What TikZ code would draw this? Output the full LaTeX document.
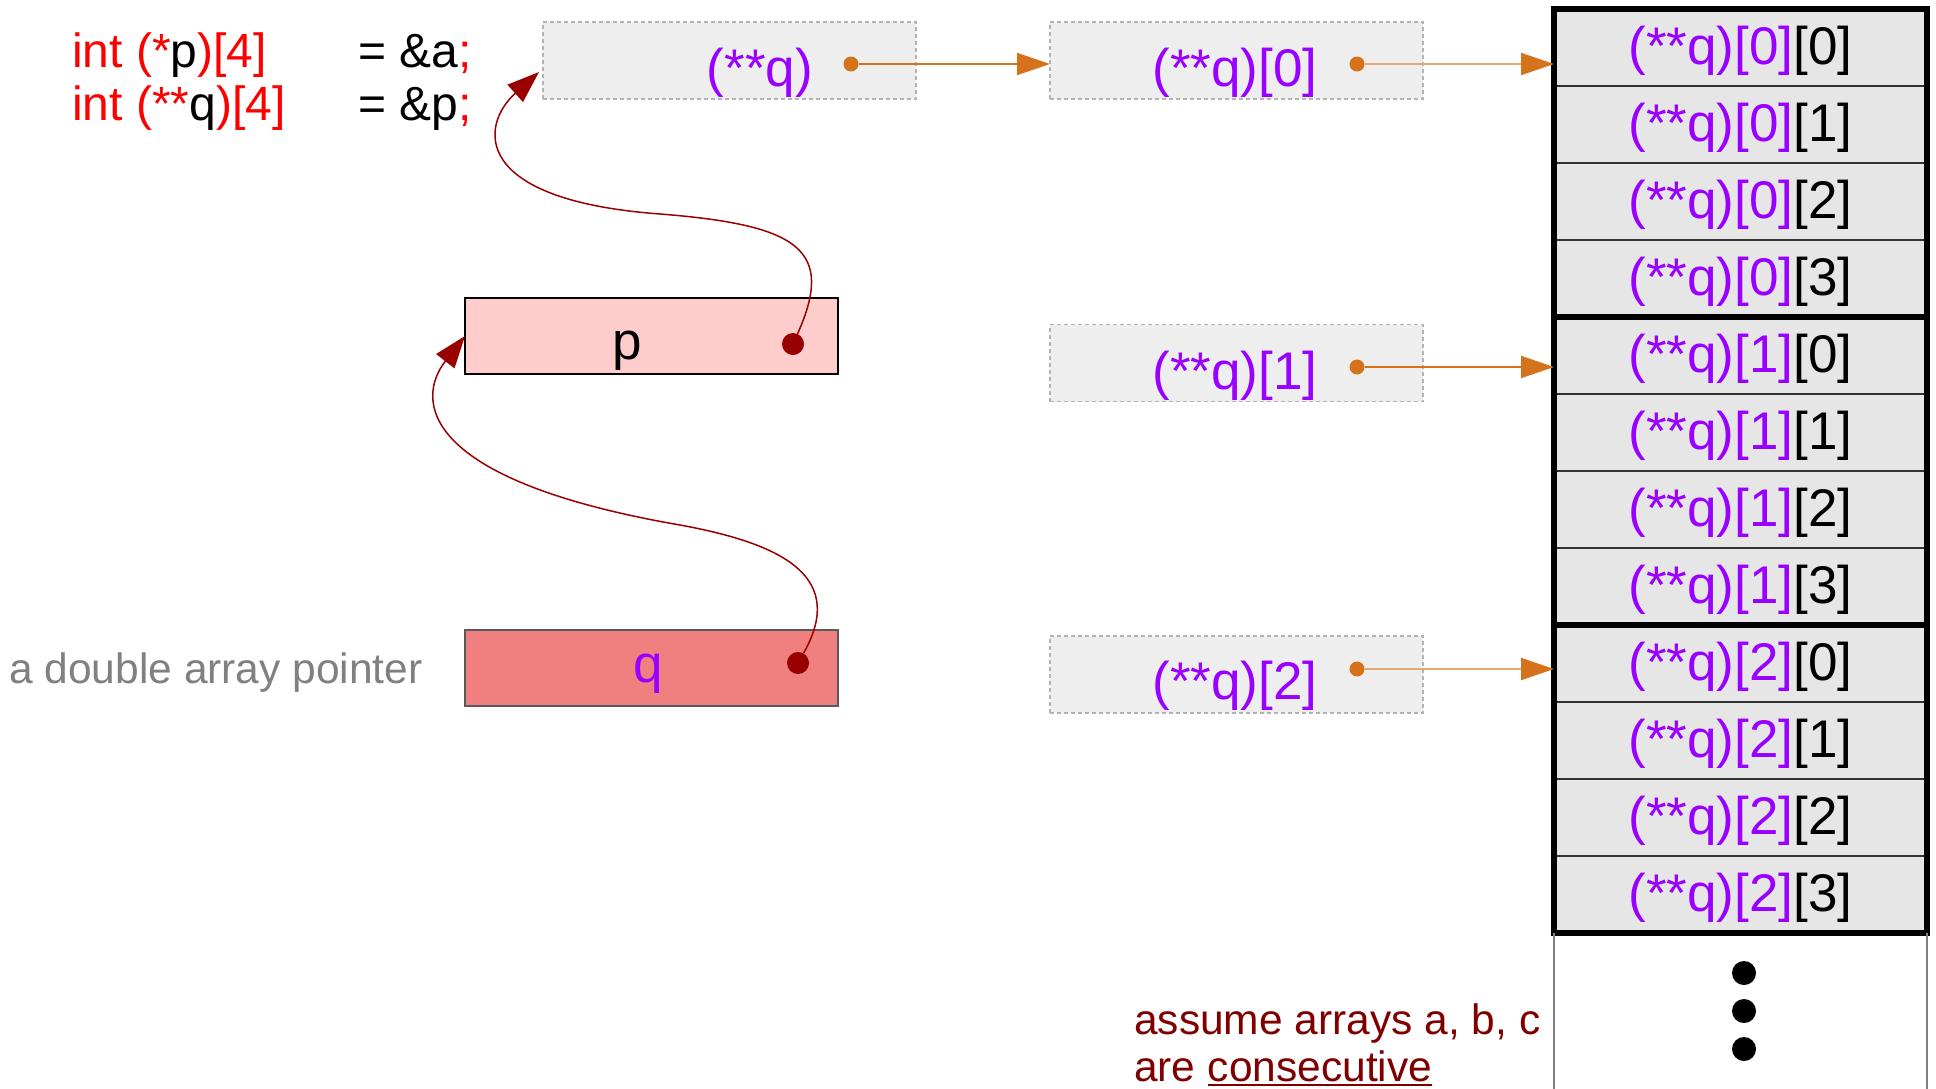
\documentclass[tikz,border=0pt]{standalone}
\usepackage{fontspec}
\setmainfont{Liberation Sans}
\usetikzlibrary{arrows.meta}
\definecolor{vio}{HTML}{9900FF}
\definecolor{cred}{HTML}{FF0000}
\definecolor{dred}{HTML}{990000}
\definecolor{brn}{HTML}{800000}
\definecolor{org}{HTML}{D4731C}
\definecolor{orgpale}{HTML}{E3A874}
\definecolor{ptrfill}{HTML}{EEEEEE}
\definecolor{ptrline}{HTML}{B3B3B3}
\definecolor{cellfill}{HTML}{E6E6E6}
\definecolor{pfill}{HTML}{FFCCCC}
\definecolor{qfill}{HTML}{F08080}
\definecolor{lbl}{HTML}{808080}
\newcommand\fsz[1]{\fontsize{#1}{#1}\selectfont}
\begin{document}
\begin{tikzpicture}[x=1pt,y=-1pt,
  ptrbox/.style={draw=ptrline, dash pattern=on 4pt off 3pt, line width=1.2pt, fill=ptrfill,
    minimum width=373pt, minimum height=77pt, inner sep=0pt, outer sep=0pt},
  varbox/.style={line width=1.5pt, minimum width=373pt, minimum height=76pt, inner sep=0pt, outer sep=0pt},
  cellbox/.style={draw=black!80, line width=1.2pt, fill=cellfill, minimum width=373pt, minimum height=77pt,
    inner sep=0pt, outer sep=0pt, text height=40pt, text depth=7pt, font=\fsz{53}},
  bigtxt/.style={anchor=base, inner sep=0pt, font=\fsz{53}},
  codetxt/.style={anchor=base west, inner sep=0pt, font=\fsz{48}},
  smalltxt/.style={anchor=base west, inner sep=0pt, font=\fsz{42.5}},
  odot/.style={circle, fill=org, minimum size=15pt, inner sep=0pt},
  rdot/.style={circle, fill=dred, minimum size=22pt, inner sep=0pt},
  bdot/.style={circle, fill=black, minimum size=24pt, inner sep=0pt},
  oarrow/.style={line width=2pt, -{Triangle[length=33pt,width=22pt,color=org]}},
  rcurve/.style={draw=dred, line width=1.5pt, -{Triangle[length=32pt,width=23pt,color=dred]}},
  thickgrp/.style={line width=6pt, draw=black}
]
\useasboundingbox (0,0) rectangle (1936,1088);

% code lines
\node[codetxt] (l1a) at (72,67) {\textcolor{cred}{int (*}p\textcolor{cred}{)[4]}};
\node[codetxt] (l1b) at (358,67) {= \&a\textcolor{cred}{;}};
\node[codetxt] (l2a) at (72,120) {\textcolor{cred}{int (**}q\textcolor{cred}{)[4]}};
\node[codetxt] (l2b) at (358,120) {= \&p\textcolor{cred}{;}};

% pointer boxes
\node[ptrbox] (bq) at (729.5,60.5) {};
\node[bigtxt, text=vio] (tq) at (760,86) {(**q)};
\node[ptrbox] (b0) at (1236.5,60.5) {};
\node[bigtxt, text=vio] (t0) at (1235,86) {(**q)[0]};
\node[ptrbox] (b1) at (1236.5,363) {};
\node[bigtxt, text=vio] (t1) at (1235,389) {(**q)[1]};
\node[ptrbox] (b2) at (1236.5,674.5) {};
\node[bigtxt, text=vio] (t2) at (1235,699) {(**q)[2]};

% p and q boxes
\node[varbox, draw=black, fill=pfill] (pbox) at (651.5,336) {};
\node[bigtxt, text=black] (tp) at (627,359) {p};
\node[varbox, draw=black!65, fill=qfill] (qbox) at (651.5,668) {};
\node[bigtxt, text=vio] (tqq) at (648,682) {q};
\node[smalltxt, text=lbl] (lab) at (9,683) {a double array pointer};

% array cells
\foreach \i in {0,1,2}{
  \foreach \j in {0,1,2,3}{
    \pgfmathsetmacro\k{4*\i+\j}
    \node[cellbox] (c\i\j) at (1740.5,{47.5+77*\k}) {\textcolor{vio}{(**q)[\i]}[\j]};
  }
}
\foreach \i in {0,1,2}{
  \draw[thickgrp] (c\i0.north west) rectangle (c\i3.south east);
}
\draw[lbl, line width=1.5pt] (c23.south west) -- ++(0,156);
\draw[lbl, line width=1.5pt] (c23.south east) -- ++(0,156);
\node[bdot] (e1) at (1744,973) {};
\node[bdot] (e2) at (1744,1011) {};
\node[bdot] (e3) at (1744,1049) {};

% note
\node[smalltxt, text=brn] (n1) at (1134,1034) {assume arrays a, b, c};
\node[smalltxt, text=brn] (n2) at (1134,1081) {are};
\node[smalltxt, text=brn] (cons) at ([xshift=11.8pt]n2.base east) {consecutive};
\draw[brn, line width=2pt] ([yshift=-3.5pt]cons.base west) -- ([yshift=-3.5pt]cons.base east);

% orange dots and arrows
\node[odot] (dq) at (851,64) {};
\node[odot] (d0) at (1357,64) {};
\node[odot] (d1) at (1357,367) {};
\node[odot] (d2) at (1357,669) {};
\draw[oarrow, draw=org] (dq) -- (dq -| b0.west);
\draw[oarrow, draw=orgpale] (d0) -- (d0 -| c00.west);
\draw[oarrow, draw=org] (d1) -- (d1 -| c10.west);
\draw[oarrow, draw=orgpale] (d2) -- (d2 -| c20.west);

% dark red pointers
\node[rdot] (pdot) at (793,344) {};
\node[rdot] (qdot) at (798,663) {};
\coordinate (tipq) at ([shift={(-4,11.5)}]bq.west);
\draw[rcurve] (pdot) .. controls (835,250) and (800,225) .. (660,214)
  .. controls (470,200) and (480,125) .. (tipq);
\draw[rcurve] (qdot) .. controls (845,580) and (790,545) .. (680,525)
  .. controls (420,480) and (415,400) .. (pbox.west);
\end{tikzpicture}
\end{document}
